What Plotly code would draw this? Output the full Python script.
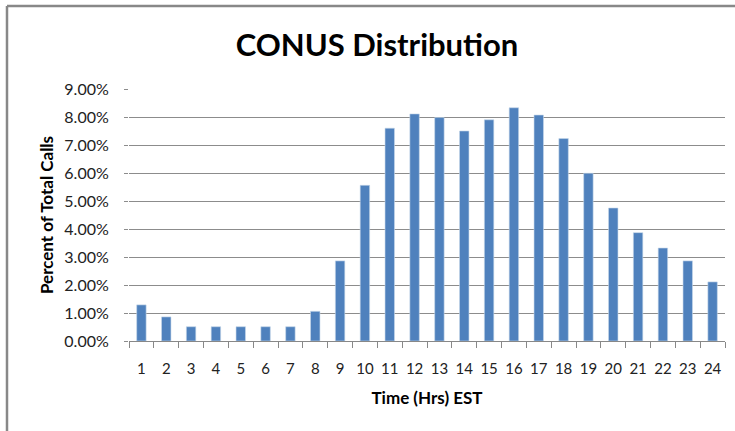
import plotly.graph_objects as go

# Hourly share of total calls (CONUS), hours EST
hours = [str(h) for h in range(1, 25)]
percent_calls = [1.29, 0.86, 0.51, 0.51, 0.51, 0.51, 0.51, 1.06, 2.86, 5.56,
                 7.60, 8.11, 7.98, 7.50, 7.90, 8.33, 8.07, 7.23, 5.99, 4.75,
                 3.87, 3.32, 2.86, 2.11]
percent_calls = [v / 100 for v in percent_calls]

font = "Lato, 'Open Sans', sans-serif"

fig = go.Figure()
fig.add_trace(go.Bar(
    x=hours, y=percent_calls,
    marker_color="#4F81BD",
    marker_line=dict(color="#C6D6EA", width=0.6),
))

# outer frame (only top and left edges visible in the reference)
fig.add_shape(type="line", xref="paper", yref="paper",
              x0=-0.2047, x1=1.02, y0=1.329, y1=1.329,
              line=dict(color="#888888", width=2.5))
fig.add_shape(type="line", xref="paper", yref="paper",
              x0=-0.2047, x1=-0.2047, y0=1.329, y1=-0.36,
              line=dict(color="#888888", width=2.5))

fig.update_layout(
    width=735, height=431,
    margin=dict(l=129, r=10, t=89, b=90, autoexpand=False),
    paper_bgcolor="white", plot_bgcolor="white",
    bargap=0.62,
    showlegend=False,
    font=dict(family=font, color="#222222", size=15),
    title=dict(text="<b>CONUS Distribution</b>", x=0.513, xanchor="center",
               y=0.895, yanchor="middle",
               font=dict(family=font, size=31, color="black")),
)
fig.update_xaxes(
    type="category", automargin=False,
    showline=True, linecolor="#888888", linewidth=1,
    ticks="outside", tickson="boundaries", ticklen=6, tickcolor="#888888",
    showgrid=False, tickangle=0, ticklabelstandoff=14,
    tickfont=dict(size=15),
    title=dict(text="<b>Time (Hrs) EST</b>", font=dict(size=17, color="black"),
               standoff=16),
)
fig.update_yaxes(
    range=[0, 0.09], dtick=0.01, tickformat=".2%", automargin=False,
    showgrid=True, gridcolor="#8C8C8C", gridwidth=1,
    showline=False, zeroline=False,
    ticks="outside", ticklen=4, tickcolor="#8C8C8C", ticklabelstandoff=12,
    tickfont=dict(size=16),
    title=dict(text="<b>Percent of Total Calls</b>", font=dict(size=17, color="black"),
               standoff=6),
)

fig.write_html("out.html", config={"displayModeBar": False},
               post_script="document.body.style.margin='0';")
